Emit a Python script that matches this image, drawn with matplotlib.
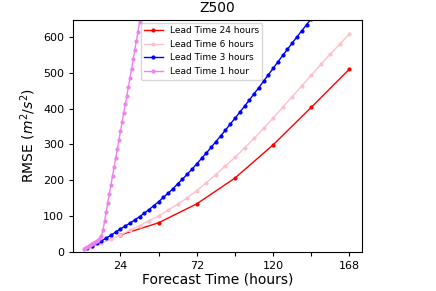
import matplotlib
matplotlib.use("Agg")
import matplotlib.pyplot as plt

# Lead Time 24 hours
hours_24 = [24, 48, 72, 96, 120, 144, 168]
rmse_24 = [47, 81, 134, 206, 299, 404, 511]

# Lead Time 6 hours
hours_6 = list(range(6, 169, 6))
rmse_6 = [14, 24, 35, 47, 60, 73, 87, 100, 117, 133, 151, 171, 193, 216,
          240, 264, 290, 317, 345, 374, 404, 434, 464, 494, 524, 553, 581, 609]

# Lead Time 3 hours
hours_3 = list(range(3, 169, 3))
rmse_3 = [10, 16, 23, 30, 38, 46, 55, 64, 72, 80, 89, 98, 108, 118, 129,
          140, 152, 164, 176, 190, 203, 217, 231, 246, 261, 276, 292, 308,
          324, 340, 357, 373, 390, 407, 424, 442, 459, 477, 495, 513, 531,
          549, 566, 584, 601, 618, 635, 652, 669, 686, 703, 720, 737, 754,
          771, 788]

# Lead Time 1 hour
hours_1 = list(range(1, 39))
rmse_1 = [8, 10, 13, 15, 18, 21, 24, 27, 30, 33, 37, 44, 60, 85, 111, 137,
          162, 187, 212, 237, 262, 287, 312, 337, 362, 387, 412, 437, 462,
          487, 512, 538, 564, 590, 616, 642, 668, 694]

xticks = [24, 48, 72, 96, 120, 144, 168]
xticklabels = ["24", "", "72", "", "120", "", "168"]
yticks = [0, 100, 200, 300, 400, 500, 600]

fig = plt.figure(figsize=(4.36, 2.91), dpi=100)
ax = fig.add_axes([0.168, 0.135, 0.6616, 0.796])

ax.plot(hours_24, rmse_24, color="red", marker=".", markersize=4, linewidth=1,
        label="Lead Time 24 hours")
ax.plot(hours_6, rmse_6, color="pink", marker=".", markersize=4, linewidth=1,
        label="Lead Time 6 hours")
ax.plot(hours_3, rmse_3, color="blue", marker=".", markersize=4, linewidth=1,
        label="Lead Time 3 hours")
ax.plot(hours_1, rmse_1, color="violet", marker=".", markersize=4, linewidth=1,
        label="Lead Time 1 hour")

ax.set_xlim(-5.7, 175.7)
ax.set_ylim(0, 648)
ax.set_xticks(xticks)
ax.set_xticklabels(xticklabels)
ax.set_yticks(yticks)
ax.tick_params(labelsize=8, length=3)

ax.set_title("Z500", fontsize=10)
ax.set_xlabel("Forecast Time (hours)", fontsize=10, labelpad=1)
ax.set_ylabel("RMSE ($m^2/s^2$)", fontsize=10)

ax.legend(loc="upper left", bbox_to_anchor=(0.225, 1.0), fontsize=6.5,
          borderaxespad=0.3)

fig.savefig("out.png", dpi=100)
